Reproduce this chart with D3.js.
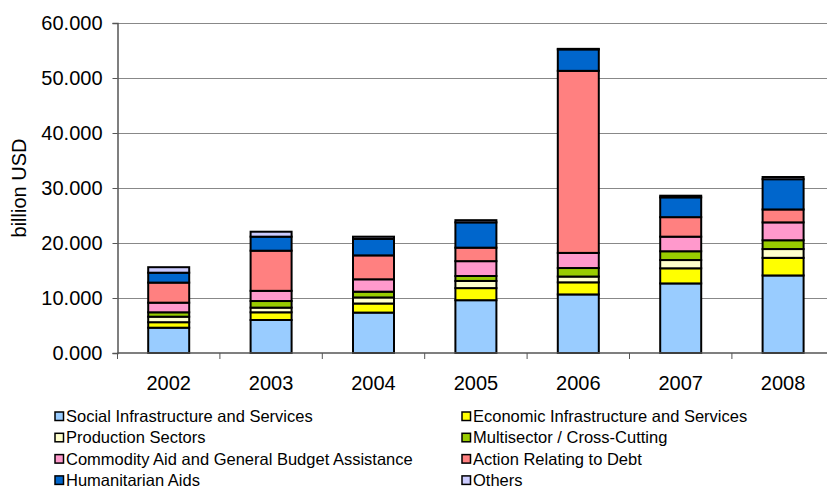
<!DOCTYPE html>
<html>
<head>
<meta charset="utf-8">
<script src="https://cdn.jsdelivr.net/npm/d3@7/dist/d3.min.js"></script>
<style>
  html, body { margin: 0; padding: 0; background: #fff; }
  svg text { font-family: "Liberation Sans", Arial, sans-serif; fill: #000; }
</style>
</head>
<body>
<svg id="chart" width="827" height="488"></svg>
<script>
// Years on the category axis
const years = ["2002", "2003", "2004", "2005", "2006", "2007", "2008"];

// Sector disbursements, billion USD
const social       = [4.6, 6.0, 7.35, 9.6, 10.65, 12.65, 14.1];
const economic     = [1.0, 1.4, 1.65, 2.2, 2.2, 2.75, 3.2];
const production   = [1.0, 0.85, 1.1, 1.3, 1.05, 1.5, 1.6];
const multisector  = [0.8, 1.2, 1.05, 0.9, 1.55, 1.6, 1.6];
const commodity    = [1.75, 1.85, 2.25, 2.7, 2.75, 2.65, 3.25];
const debt         = [3.65, 7.3, 4.35, 2.45, 33.1, 3.55, 2.35];
const humanitarian = [1.8, 2.55, 3.0, 4.6, 3.9, 3.6, 5.5];
const others       = [1.0, 0.9, 0.4, 0.4, 0.1, 0.3, 0.4];

const seriesNames = [
  "Social Infrastructure and Services",
  "Economic Infrastructure and Services",
  "Production Sectors",
  "Multisector / Cross-Cutting",
  "Commodity Aid and General Budget Assistance",
  "Action Relating to Debt",
  "Humanitarian Aids",
  "Others"
];
const seriesValues = [social, economic, production, multisector, commodity, debt, humanitarian, others];
const seriesColors = ["#99ccff", "#ffff00", "#ffffcc", "#99cc00", "#ff99cc", "#ff8080", "#0066cc", "#ccccff"];

const yTicks = [0, 10, 20, 30, 40, 50, 60];

// Build rows for d3.stack
const rows = years.map((yr, i) => {
  const r = { year: yr };
  seriesNames.forEach((n, k) => { r[n] = seriesValues[k][i]; });
  return r;
});
const stacked = d3.stack().keys(seriesNames)(rows);

const svg = d3.select("#chart");
const plotLeft = 117.5, plotTop = 23, plotBottom = 353;

const x = d3.scaleBand().domain(years).range([plotLeft, plotLeft + 7 * 102.4]).paddingInner(0).paddingOuter(0);
const y = d3.scaleLinear().domain([0, 60]).range([plotBottom, plotTop]);
const barW = 41;

// Horizontal gridlines
svg.append("g").selectAll("line")
  .data(yTicks.filter(t => t > 0))
  .join("line")
  .attr("x1", plotLeft).attr("x2", 827)
  .attr("y1", d => Math.round(y(d)) + 0.5).attr("y2", d => Math.round(y(d)) + 0.5)
  .attr("stroke", "#888").attr("stroke-width", 1.2);

// Stacked bars
const groups = svg.append("g").selectAll("g")
  .data(stacked)
  .join("g")
  .attr("fill", (d, i) => seriesColors[i]);

groups.selectAll("rect")
  .data(d => d.map(p => ({ p, year: p.data.year })))
  .join("rect")
  .attr("x", d => x(d.year) + x.bandwidth() / 2 - barW / 2)
  .attr("width", barW)
  .attr("y", d => y(d.p[1]))
  .attr("height", d => Math.max(0, y(d.p[0]) - y(d.p[1])))
  .attr("stroke", "#000")
  .attr("stroke-width", 2);

// Y axis
const yAxis = d3.axisLeft(y).tickValues(yTicks).tickFormat(d3.format(".3f")).tickSize(5).tickPadding(10);
const gy = svg.append("g").attr("transform", `translate(${plotLeft},0)`).call(yAxis);
gy.select(".domain").attr("stroke", "#555").attr("stroke-width", 1.5);
gy.selectAll(".tick line").attr("stroke", "#555");
gy.selectAll(".tick text").attr("font-size", 20).attr("font-family", "Liberation Sans, Arial, sans-serif");

// X axis with ticks at band boundaries
const gx = svg.append("g").attr("transform", `translate(0,${plotBottom})`);
gx.append("line").attr("x1", plotLeft).attr("x2", 827).attr("y1", 0).attr("y2", 0)
  .attr("stroke", "#555").attr("stroke-width", 1.5);
gx.selectAll("line.tk")
  .data(years.concat(["end"]))
  .join("line").attr("class", "tk")
  .attr("x1", (d, i) => plotLeft + i * x.step()).attr("x2", (d, i) => plotLeft + i * x.step())
  .attr("y1", 0).attr("y2", 6)
  .attr("stroke", "#555");
gx.selectAll("text")
  .data(years)
  .join("text")
  .attr("x", d => x(d) + x.bandwidth() / 2)
  .attr("y", 37)
  .attr("text-anchor", "middle")
  .attr("font-size", 20)
  .text(d => d);

// Y axis title
svg.append("text")
  .attr("transform", "translate(26,188) rotate(-90)")
  .attr("text-anchor", "middle")
  .attr("font-size", 20)
  .text("billion USD");

// Legend, two columns
const legend = svg.append("g");
const legItems = legend.selectAll("g")
  .data(seriesNames)
  .join("g")
  .attr("transform", (d, i) => {
    const col = i % 2, row = Math.floor(i / 2);
    return `translate(${col === 0 ? 55 : 462},${416.5 + row * 21.3})`;
  });
legItems.append("rect")
  .attr("x", 0).attr("y", -4.5).attr("width", 8.5).attr("height", 8.5)
  .attr("fill", (d, i) => seriesColors[i])
  .attr("stroke", "#000").attr("stroke-width", 1.5);
legItems.append("text")
  .attr("x", 11).attr("y", 5.5)
  .attr("font-size", 16.5)
  .text(d => d);
</script>
</body>
</html>
